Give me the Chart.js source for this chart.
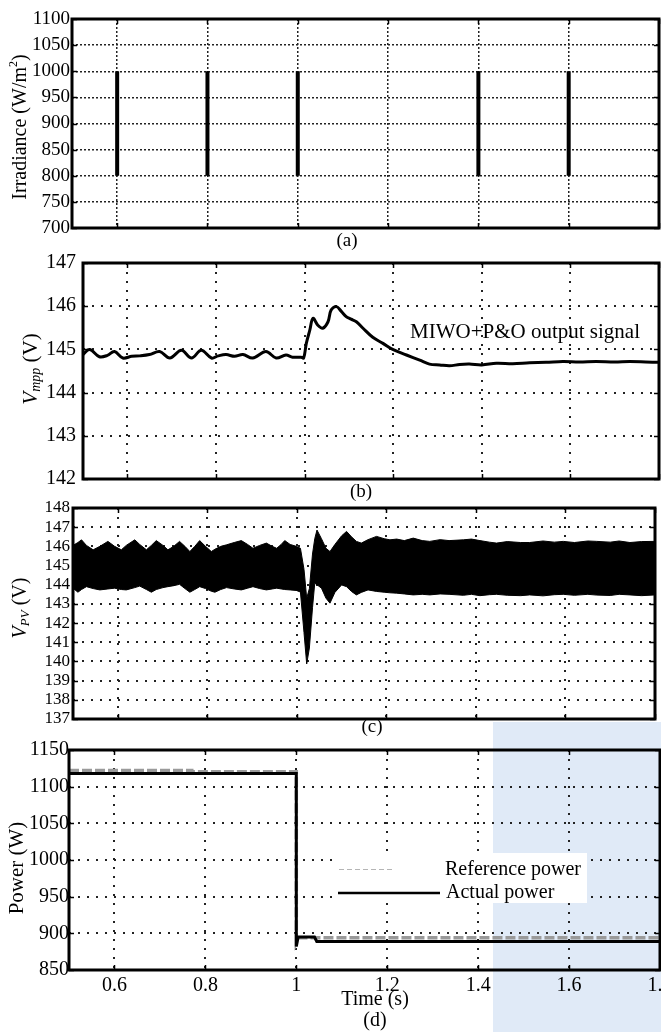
<!DOCTYPE html>
<html>
<head>
<meta charset="utf-8">
<title>MIWO+P&amp;O tracking response</title>
<script src="https://cdn.jsdelivr.net/npm/chart.js@4.4.1/dist/chart.umd.min.js"></script>
<style>
  html, body { margin: 0; padding: 0; background: #fff; }
  #page { position: relative; width: 661px; height: 1032px; overflow: hidden; background: #fff; }
  #tint { position: absolute; left: 493px; top: 722px; width: 168px; height: 310px; background: #e0eaf7; }
  canvas { position: absolute; left: 0; top: 0; }
</style>
</head>
<body>
<div id="page">
  <div id="tint"></div>
  <canvas id="chartA" width="661" height="1032"></canvas>
  <canvas id="chartB" width="661" height="1032"></canvas>
  <canvas id="chartC" width="661" height="1032"></canvas>
  <canvas id="chartD" width="661" height="1032"></canvas>
</div>
<script>
// ---- shared time axis ----
const timeMin = 0.5;
const timeMax = 1.8;
const timeTicks = [0.6, 0.8, 1.0, 1.2, 1.4, 1.6, 1.8];

// ---- (a) irradiance steps ----
const irrStepTimes = [0.6, 0.8, 1.0, 1.4, 1.6];
const irrLow = 800;
const irrHigh = 1000;
const irrTicks = [700, 750, 800, 850, 900, 950, 1000, 1050, 1100];

// ---- (b) Vmpp reference from MIWO+P&O ----
const vmppTime = [0.5, 0.515, 0.537, 0.555, 0.571, 0.59, 0.61, 0.628, 0.65, 0.673, 0.696, 0.722, 0.745, 0.767, 0.79, 0.805, 0.823, 0.842, 0.861, 0.883, 0.913, 0.936, 0.958, 0.973, 0.992, 0.998, 1.004, 1.012, 1.019, 1.030, 1.041, 1.053, 1.06, 1.072, 1.083, 1.094, 1.105, 1.117, 1.132, 1.154, 1.177, 1.199, 1.23, 1.26, 1.282, 1.305, 1.327, 1.35, 1.372, 1.4, 1.433, 1.47, 1.508, 1.545, 1.583, 1.62, 1.658, 1.7, 1.734, 1.77, 1.8];
const vmppValue = [144.88, 145.0, 144.83, 144.86, 144.95, 144.8, 144.84, 144.85, 144.88, 144.95, 144.8, 144.98, 144.8, 144.98, 144.8, 144.85, 144.88, 144.84, 144.88, 144.8, 144.95, 144.8, 144.87, 144.82, 144.82, 144.8, 145.14, 145.45, 145.72, 145.56, 145.49, 145.64, 145.91, 145.99, 145.88, 145.76, 145.7, 145.64, 145.49, 145.28, 145.14, 145.0, 144.87, 144.75, 144.66, 144.64, 144.62, 144.65, 144.66, 144.64, 144.68, 144.67, 144.69, 144.7, 144.72, 144.71, 144.72, 144.71, 144.72, 144.71, 144.7];
const vmppTicks = [142, 143, 144, 145, 146, 147];

// ---- (c) PV voltage ripple envelope ----
const vpvTime = [0.500, 0.511, 0.519, 0.530, 0.545, 0.560, 0.578, 0.593, 0.608, 0.619, 0.638, 0.649, 0.664, 0.675, 0.686, 0.701, 0.712, 0.725, 0.738, 0.750, 0.761, 0.772, 0.783, 0.796, 0.809, 0.817, 0.830, 0.843, 0.860, 0.876, 0.890, 0.902, 0.917, 0.932, 0.945, 0.955, 0.965, 0.973, 0.985, 0.999, 1.008, 1.016, 1.022, 1.028, 1.035, 1.040, 1.045, 1.055, 1.065, 1.074, 1.085, 1.100, 1.111, 1.122, 1.133, 1.144, 1.159, 1.178, 1.195, 1.208, 1.223, 1.240, 1.260, 1.280, 1.297, 1.320, 1.340, 1.372, 1.390, 1.409, 1.430, 1.446, 1.470, 1.500, 1.520, 1.550, 1.575, 1.595, 1.620, 1.650, 1.670, 1.700, 1.720, 1.744, 1.770, 1.800];
const vpvUpper = [146.05, 146.20, 146.34, 146.05, 145.82, 146.00, 146.26, 146.00, 145.82, 146.05, 146.34, 146.10, 145.82, 146.05, 146.30, 146.05, 145.82, 146.00, 146.26, 146.00, 145.73, 146.00, 146.30, 146.00, 145.73, 145.85, 146.00, 146.08, 146.20, 146.30, 146.10, 145.90, 146.05, 146.17, 146.00, 145.90, 146.10, 146.30, 146.10, 146.00, 145.90, 144.80, 143.30, 143.80, 145.60, 146.40, 146.85, 146.40, 145.90, 145.73, 146.10, 146.55, 146.78, 146.50, 146.26, 146.17, 146.35, 146.52, 146.40, 146.34, 146.38, 146.30, 146.43, 146.30, 146.26, 146.35, 146.30, 146.34, 146.38, 146.30, 146.22, 146.17, 146.25, 146.20, 146.20, 146.28, 146.22, 146.26, 146.20, 146.28, 146.26, 146.22, 146.28, 146.20, 146.25, 146.26];
const vpvLower = [143.82, 143.61, 143.75, 143.90, 143.80, 143.73, 143.78, 143.82, 143.75, 143.73, 143.85, 143.93, 143.75, 143.61, 143.75, 143.85, 143.90, 143.95, 144.02, 143.80, 143.61, 143.75, 143.90, 143.80, 143.66, 143.61, 143.75, 143.85, 143.78, 143.73, 143.82, 143.90, 143.80, 143.73, 143.78, 143.82, 143.78, 143.75, 143.73, 143.70, 143.62, 141.50, 139.87, 140.70, 142.80, 144.08, 144.00, 143.82, 143.30, 143.04, 143.60, 143.99, 143.90, 143.65, 143.47, 143.60, 143.73, 143.65, 143.61, 143.58, 143.56, 143.52, 143.47, 143.50, 143.47, 143.52, 143.50, 143.45, 143.50, 143.43, 143.48, 143.50, 143.45, 143.43, 143.47, 143.42, 143.48, 143.50, 143.45, 143.50, 143.46, 143.44, 143.50, 143.47, 143.43, 143.47];
const vpvTicks = [137, 138, 139, 140, 141, 142, 143, 144, 145, 146, 147, 148];

// ---- (d) power tracking ----
const refPowerTime = [0.5, 0.77, 0.77, 1.0, 1.0, 1.004, 1.8];
const refPowerValue = [1122, 1122, 1120.5, 1120.5, 888, 894, 894];
const actPowerTime = [0.5, 1.0, 1.0, 1.004, 1.04, 1.045, 1.8];
const actPowerValue = [1118, 1118, 882, 895, 895, 889, 889];
const powerTicks = [850, 900, 950, 1000, 1050, 1100, 1150];

const SERIF = '"Liberation Serif", "Times New Roman", serif';
const PAGE_W = 661, PAGE_H = 1032;

function pts(xs, ys) { return xs.map((x, i) => ({ x: x, y: ys[i] })); }

// Draws a line of text made of several runs (italic / sub- / superscript), optionally rotated.
function drawRich(ctx, item) {
  ctx.save();
  ctx.translate(item.x, item.y);
  if (item.rot) ctx.rotate(-Math.PI / 2);
  ctx.textBaseline = 'middle';
  ctx.textAlign = 'left';
  ctx.fillStyle = '#000';
  let total = 0;
  const fonts = item.parts.map(p => (p.italic ? 'italic ' : '') + p.size + 'px ' + SERIF);
  const widths = item.parts.map((p, i) => { ctx.font = fonts[i]; const w = ctx.measureText(p.text).width; total += w; return w; });
  let x = item.align === 'left' ? 0 : -total / 2;
  item.parts.forEach((p, i) => { ctx.font = fonts[i]; ctx.fillText(p.text, x, p.dy || 0); x += widths[i]; });
  ctx.restore();
}

// Closed frame with inward tick marks, plus panel texts
const framePlugin = {
  id: 'frameAndText',
  afterDatasetsDraw(chart, args, opts) {
    if (opts.legend) opts.legend(chart.ctx);
  },
  afterDraw(chart, args, opts) {
    const ctx = chart.ctx, a = chart.chartArea;
    ctx.save();
    ctx.strokeStyle = '#000';
    ctx.lineWidth = 1.5;
    ctx.setLineDash([]);
    const ys = chart.scales.y, xs = chart.scales.x;
    ys.ticks.forEach(t => {
      const y = Math.round(ys.getPixelForValue(t.value)) + 0.5;
      ctx.beginPath(); ctx.moveTo(a.left, y); ctx.lineTo(a.left + 5, y);
      ctx.moveTo(a.right, y); ctx.lineTo(a.right - 5, y); ctx.stroke();
    });
    xs.ticks.forEach(t => {
      const x = Math.round(xs.getPixelForValue(t.value)) + 0.5;
      ctx.beginPath(); ctx.moveTo(x, a.top); ctx.lineTo(x, a.top + 5);
      ctx.moveTo(x, a.bottom); ctx.lineTo(x, a.bottom - 5); ctx.stroke();
    });
    ctx.lineWidth = 3;
    ctx.strokeRect(a.left, a.top, a.right - a.left, a.bottom - a.top);
    ctx.restore();
    (opts.texts || []).forEach(item => drawRich(ctx, item));
  }
};

function makePanel(id, cfg) {
  const box = cfg.box;
  return new Chart(document.getElementById(id), {
    type: 'line',
    data: { datasets: cfg.datasets },
    plugins: [framePlugin],
    options: {
      responsive: false,
      animation: false,
      devicePixelRatio: 1,
      layout: { padding: { left: 0, top: box.t, right: PAGE_W - box.r, bottom: 0 } },
      elements: { point: { radius: 0 }, line: { tension: 0 } },
      plugins: {
        legend: { display: false },
        tooltip: { enabled: false },
        frameAndText: { texts: cfg.texts, legend: cfg.legend }
      },
      scales: {
        x: {
          type: 'linear', min: timeMin, max: timeMax,
          afterBuildTicks: s => { s.ticks = timeTicks.map(v => ({ value: v })); },
          afterFit: s => { s.height = PAGE_H - box.b; s.paddingLeft = 0; s.paddingRight = 0; },
          grid: { drawTicks: false, color: '#222', lineWidth: cfg.gridWidth },
          border: { display: false, dash: cfg.dash },
          ticks: {
            display: !!cfg.showX, padding: 4, color: '#000', maxRotation: 0, autoSkip: false,
            font: { family: SERIF, size: 20 },
            callback: v => String(Number(v.toFixed(1)))
          }
        },
        y: {
          type: 'linear', min: cfg.yMin, max: cfg.yMax,
          afterBuildTicks: s => { s.ticks = cfg.yTicks.map(v => ({ value: v })); },
          afterFit: s => { s.width = box.l; s.paddingTop = 0; s.paddingBottom = 0; },
          grid: { drawTicks: false, color: '#222', lineWidth: cfg.gridWidth },
          border: { display: false, dash: cfg.dash },
          ticks: {
            padding: cfg.yPad, color: '#000', autoSkip: false,
            font: { family: SERIF, size: cfg.yFont },
            callback: v => String(v)
          }
        }
      }
    }
  });
}

// (a) Irradiance
makePanel('chartA', {
  box: { l: 72, t: 19, r: 659, b: 228 },
  yMin: 700, yMax: 1100, yTicks: irrTicks, yFont: 19, yPad: 2,
  dash: [2, 2], gridWidth: 1.5,
  datasets: irrStepTimes.map(t => ({
    data: [{ x: t, y: irrLow }, { x: t, y: irrHigh }],
    borderColor: '#000', borderWidth: 4, fill: false
  })),
  texts: [
    { rot: true, x: 21, y: 127, parts: [
      { text: 'Irradiance (W/m', size: 20 }, { text: '2', size: 12, dy: -7 }, { text: ')', size: 20 } ] },
    { x: 347, y: 241, parts: [{ text: '(a)', size: 19 }] }
  ]
});

// (b) Vmpp
makePanel('chartB', {
  box: { l: 83, t: 263, r: 659, b: 479 },
  yMin: 142, yMax: 147, yTicks: vmppTicks, yFont: 20, yPad: 7,
  dash: [2, 7], gridWidth: 2,
  datasets: [{
    data: pts(vmppTime, vmppValue),
    borderColor: '#000', borderWidth: 3, fill: false, tension: 0.35,
    borderJoinStyle: 'round'
  }],
  texts: [
    { rot: true, x: 31, y: 369, parts: [
      { text: 'V', size: 21, italic: true }, { text: 'mpp', size: 14, italic: true, dy: 5 }, { text: ' (V)', size: 21 } ] },
    { x: 410, y: 332, align: 'left', parts: [{ text: 'MIWO+P&O output signal', size: 21 }] },
    { x: 361, y: 492, parts: [{ text: '(b)', size: 19 }] }
  ]
});

// (c) PV voltage
makePanel('chartC', {
  box: { l: 73, t: 508, r: 655, b: 719 },
  yMin: 137, yMax: 148, yTicks: vpvTicks, yFont: 17, yPad: 3,
  dash: [2, 7], gridWidth: 2,
  datasets: [
    { data: pts(vpvTime, vpvUpper), borderColor: '#000', borderWidth: 1, fill: false },
    { data: pts(vpvTime, vpvLower), borderColor: '#000', borderWidth: 1, fill: '-1', backgroundColor: '#000' }
  ],
  texts: [
    { rot: true, x: 21, y: 608, parts: [
      { text: 'V', size: 20, italic: true }, { text: 'PV', size: 13, italic: true, dy: 5 }, { text: ' (V)', size: 20 } ] },
    { x: 372, y: 727, parts: [{ text: '(c)', size: 19 }] }
  ]
});

// (d) Power
makePanel('chartD', {
  box: { l: 69, t: 750, r: 660, b: 970 },
  yMin: 850, yMax: 1150, yTicks: powerTicks, yFont: 20, yPad: 0,
  dash: [2, 7], gridWidth: 2, showX: true,
  datasets: [
    { data: pts(actPowerTime, actPowerValue), borderColor: '#000', borderWidth: 3, fill: false },
    { data: pts(refPowerTime, refPowerValue), borderColor: '#9a9a9a', borderWidth: 3.5, borderDash: [10, 3], fill: false }
  ],
  legend: ctx => {
    ctx.save();
    ctx.fillStyle = '#fff';
    ctx.fillRect(336, 853, 251, 50);
    ctx.strokeStyle = '#b5b5b5'; ctx.lineWidth = 1.2; ctx.setLineDash([5, 3]);
    ctx.beginPath(); ctx.moveTo(339, 869.5); ctx.lineTo(395, 869.5); ctx.stroke();
    ctx.setLineDash([]); ctx.strokeStyle = '#000'; ctx.lineWidth = 2.5;
    ctx.beginPath(); ctx.moveTo(338, 893); ctx.lineTo(440, 893); ctx.stroke();
    ctx.restore();
    drawRich(ctx, { x: 445, y: 870, align: 'left', parts: [{ text: 'Reference power', size: 20 }] });
    drawRich(ctx, { x: 446, y: 893, align: 'left', parts: [{ text: 'Actual power', size: 20 }] });
  },
  texts: [
    { rot: true, x: 17, y: 868, parts: [{ text: 'Power (W)', size: 21 }] },
    { x: 375, y: 1000, parts: [{ text: 'Time (s)', size: 20 }] },
    { x: 375, y: 1021, parts: [{ text: '(d)', size: 20 }] }
  ]
});
</script>
</body>
</html>
